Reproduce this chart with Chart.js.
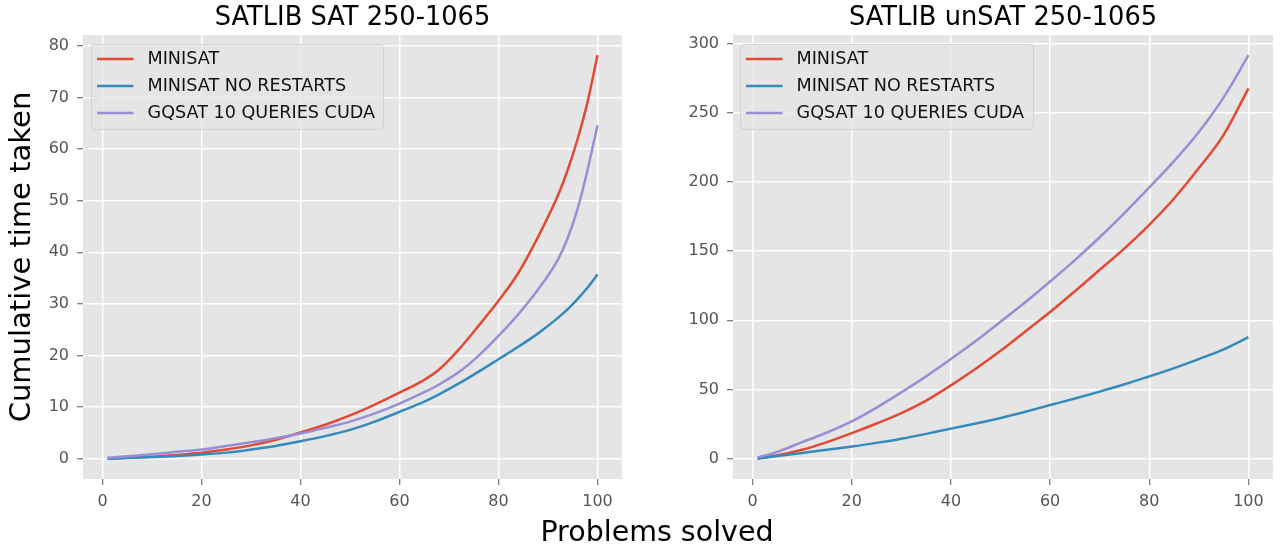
<!DOCTYPE html>
<html>
<head>
<meta charset="utf-8">
<script src="https://cdn.jsdelivr.net/npm/chart.js@4.4.0/dist/chart.umd.min.js"></script>
<style>
  body { margin: 0; background: #fff; }
  #fig { position: relative; width: 1285px; height: 546px; overflow: hidden; }
  .panel { position: absolute; top: 0; }
  #xlabel {
    position: absolute; left: 657px; top: 518px; transform: translateX(-50%);
    font: 28.5px/28px "DejaVu Sans"; color: #000; white-space: nowrap;
  }
</style>
</head>
<body>
<div id="fig">
  <canvas id="satChart" class="panel" style="left:0" width="640" height="546"></canvas>
  <canvas id="unsatChart" class="panel" style="left:640px" width="645" height="546"></canvas>
  <div id="xlabel">Problems solved</div>
</div>
<script>
// series names / colours (same for both panels)
const seriesLabels = ['MINISAT', 'MINISAT NO RESTARTS', 'GQSAT 10 QUERIES CUDA'];
const seriesColors = ['#E24A33', '#348ABD', '#988ED5'];

// left panel: SATLIB SAT 250-1065
const satProblems  = [1, 5, 10, 15, 20, 25, 30, 35, 40, 45, 50, 55, 60, 65, 68, 72, 76, 80, 84, 88, 92, 94, 96, 98, 100];
const satMinisat   = [0.05, 0.2, 0.4, 0.75, 1.2, 1.8, 2.6, 3.7, 5.1, 6.6, 8.4, 10.5, 12.8, 15.3, 17.3, 21.2, 25.8, 30.6, 36.0, 43.0, 51.0, 56.0, 62.0, 69.2, 78.2];
const satNoRestart = [0.0, 0.15, 0.35, 0.55, 0.85, 1.2, 1.8, 2.5, 3.4, 4.4, 5.6, 7.2, 9.1, 11.1, 12.5, 14.6, 16.9, 19.3, 21.7, 24.3, 27.3, 29.0, 31.0, 33.2, 35.7];
const satGqsat     = [0.2, 0.5, 0.9, 1.35, 1.8, 2.5, 3.2, 4.0, 4.9, 6.0, 7.2, 8.8, 10.7, 12.9, 14.4, 16.8, 20.0, 23.8, 28.0, 32.8, 38.6, 42.8, 48.5, 56.0, 64.6];

// right panel: SATLIB unSAT 250-1065
const unsatProblems  = [1, 5, 10, 15, 20, 25, 30, 35, 40, 45, 50, 55, 60, 65, 70, 75, 80, 85, 90, 95, 100];
const unsatMinisat   = [0.5, 2.5, 6.5, 12, 18.5, 25.5, 33, 42, 53, 65, 78, 92, 106, 121, 136.5, 152, 169, 188, 210, 234, 267.5];
const unsatNoRestart = [0, 2, 4.2, 6.5, 8.8, 11.5, 14.5, 18, 21.8, 25.5, 29.5, 34, 38.8, 43.5, 48.5, 53.8, 59.5, 65.5, 72, 79, 87.8];
const unsatGqsat     = [1, 5, 12, 19, 27, 37, 48, 59.5, 72, 85, 99, 113, 128, 143.5, 160, 177.5, 196, 215, 236, 261, 291.5];

// tick labels
const xTicks = [0, 20, 40, 60, 80, 100];
const satYTicks = [0, 10, 20, 30, 40, 50, 60, 70, 80];
const unsatYTicks = [0, 50, 100, 150, 200, 250, 300];

Chart.defaults.font.family = '"DejaVu Sans"';

const plotBackground = {
  id: 'plotBackground',
  beforeDraw(chart) {
    const { ctx, chartArea: a } = chart;
    ctx.save();
    ctx.fillStyle = '#E5E5E5';
    ctx.fillRect(a.left, a.top, a.width, a.height);
    ctx.restore();
  }
};

// title centred over the plot area, like matplotlib
const panelTitle = {
  id: 'panelTitle',
  afterDraw(chart, args, opts) {
    const { ctx, chartArea: a } = chart;
    ctx.save();
    ctx.font = '25.7px "DejaVu Sans"';
    ctx.fillStyle = '#000';
    ctx.textAlign = 'center';
    ctx.textBaseline = 'alphabetic';
    ctx.fillText(opts.text, (a.left + a.right) / 2, 24.5);
    ctx.restore();
  }
};

// matplotlib-like legend box inside the plot
const boxLegend = {
  id: 'boxLegend',
  afterDatasetsDraw(chart, args, opts) {
    const { ctx, chartArea: a } = chart;
    const x = Math.round(a.left + opts.offsetX) + 0.5;
    const y = Math.round(a.top + opts.offsetY) + 0.5;
    ctx.save();
    ctx.beginPath();
    ctx.roundRect(x, y, opts.width, 85, 4);
    ctx.fillStyle = 'rgba(229,229,229,0.8)';
    ctx.fill();
    ctx.strokeStyle = 'rgba(204,204,204,0.8)';
    ctx.lineWidth = 1;
    ctx.stroke();
    ctx.font = '17.6px "DejaVu Sans"';
    ctx.textBaseline = 'middle';
    chart.data.datasets.forEach((ds, i) => {
      const cy = y + 14.5 + i * 27;
      ctx.strokeStyle = ds.borderColor;
      ctx.lineWidth = 2.5;
      ctx.beginPath();
      ctx.moveTo(x + 5.5, cy);
      ctx.lineTo(x + 42, cy);
      ctx.stroke();
      ctx.fillStyle = '#111';
      ctx.fillText(ds.label, x + 56, cy);
    });
    ctx.restore();
  }
};

function makeDatasets(xs, series) {
  return series.map((vals, i) => ({
    label: seriesLabels[i],
    data: xs.map((x, j) => ({ x: x, y: vals[j] })),
    borderColor: seriesColors[i],
    backgroundColor: seriesColors[i],
    borderWidth: 2.5,
    pointRadius: 0,
    cubicInterpolationMode: 'monotone',
    order: 2 - i
  }));
}

function makeChart(id, title, xs, series, yTicks, yMin, yMax, cfg) {
  const tickFont = { family: 'DejaVu Sans', size: 16 };
  return new Chart(document.getElementById(id), {
    type: 'line',
    data: { datasets: makeDatasets(xs, series) },
    plugins: [plotBackground, boxLegend, panelTitle],
    options: {
      responsive: false,
      animation: false,
      layout: { padding: { left: 0, right: cfg.padRight, top: 35, bottom: 37 } },
      plugins: {
        legend: { display: false },
        tooltip: { enabled: false },
        title: { display: false },
        panelTitle: { text: title },
        boxLegend: { offsetX: cfg.legendX, offsetY: 9, width: cfg.legendW }
      },
      scales: {
        x: {
          type: 'linear', min: -3.95, max: 104.95,
          afterBuildTicks: s => { s.ticks = xTicks.map(v => ({ value: v })); },
          afterFit: s => { s.height = 30; },
          grid: { color: '#fff', lineWidth: 1.5, tickColor: '#555', tickLength: 6, tickWidth: 1 },
          border: { display: false },
          ticks: { color: '#555', font: tickFont, padding: 7, maxRotation: 0, autoSkip: false }
        },
        y: {
          type: 'linear', min: yMin, max: yMax,
          afterBuildTicks: s => { s.ticks = yTicks.map(v => ({ value: v })); },
          afterFit: s => { s.width = cfg.axisWidth; },
          grid: { color: '#fff', lineWidth: 1.5, tickColor: '#555', tickLength: 6, tickWidth: 1 },
          border: { display: false },
          ticks: { color: '#555', font: tickFont, padding: 8, autoSkip: false },
          title: {
            display: !!cfg.yTitle, text: cfg.yTitle || '', color: '#000',
            font: { family: 'DejaVu Sans', size: 29 },
            padding: { top: 5, bottom: 0 }
          }
        }
      }
    }
  });
}

makeChart('satChart', 'SATLIB SAT 250-1065', satProblems,
  [satMinisat, satNoRestart, satGqsat], satYTicks, -3.91, 82.1,
  { axisWidth: 83, padRight: 18, legendX: 8, legendW: 292, yTitle: 'Cumulative time taken' });

makeChart('unsatChart', 'SATLIB unSAT 250-1065', unsatProblems,
  [unsatMinisat, unsatNoRestart, unsatGqsat], unsatYTicks, -14.6, 306.1,
  { axisWidth: 93, padRight: 12, legendX: 7, legendW: 293 });
</script>
</body>
</html>
